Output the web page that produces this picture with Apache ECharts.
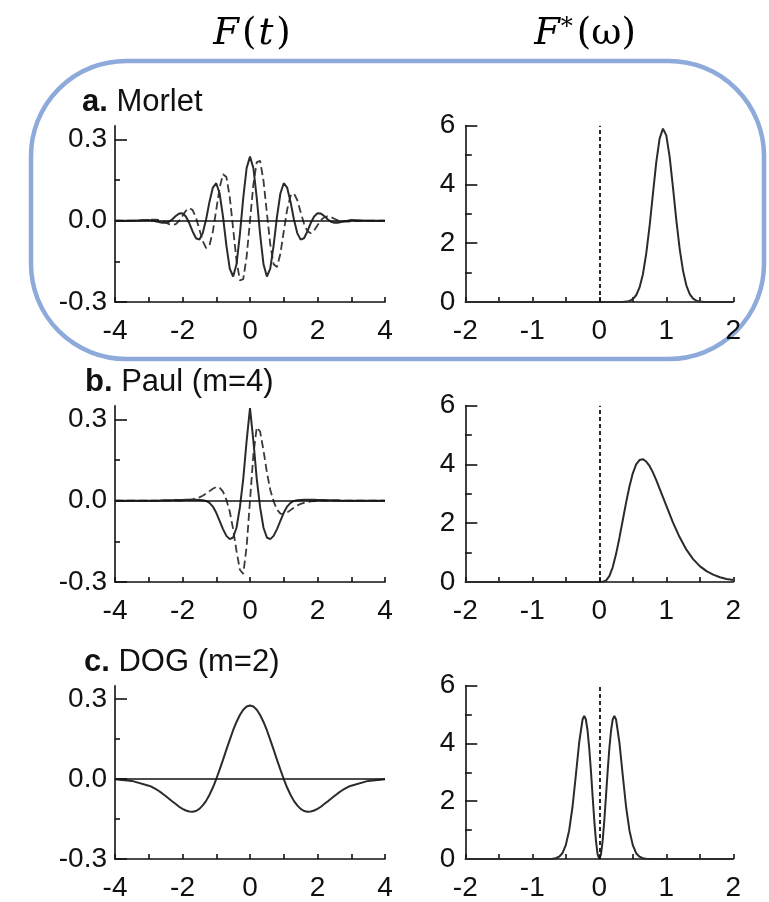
<!DOCTYPE html>
<html><head><meta charset="utf-8">
<script src="https://cdn.jsdelivr.net/npm/echarts@6/dist/echarts.min.js"></script>
<style>html,body{margin:0;padding:0;background:#fff}#c{width:769px;height:902px}</style>
</head><body><div id="c"></div>
<script>
// ---- time grid (t) for left panels ----
const T = [-4,-3.5,-3,-2.9,-2.8,-2.7,-2.6,-2.5,-2.4,-2.3,-2.2,-2.1,-2,-1.9,-1.8,-1.7,-1.6,-1.5,-1.4,-1.3,-1.2,-1.1,-1,-0.9,-0.8,-0.7,-0.6,-0.5,-0.4,-0.3,-0.2,-0.1,0,0.1,0.2,0.3,0.4,0.5,0.6,0.7,0.8,0.9,1,1.1,1.2,1.3,1.4,1.5,1.6,1.7,1.8,1.9,2,2.1,2.2,2.3,2.4,2.5,2.6,2.7,2.8,2.9,3,3.5,4];
// a. Morlet, real (solid) and imaginary (dashed)
const morletRe = [0,0,0.002,0,-0.002,-0.005,-0.008,-0.008,-0.004,0.005,0.017,0.026,0.027,0.015,-0.009,-0.04,-0.065,-0.07,-0.046,0.005,0.07,0.122,0.138,0.1,0.015,-0.091,-0.177,-0.206,-0.161,-0.051,0.084,0.194,0.236,0.194,0.084,-0.051,-0.161,-0.206,-0.177,-0.091,0.015,0.1,0.138,0.122,0.07,0.005,-0.046,-0.07,-0.065,-0.04,-0.009,0.015,0.027,0.026,0.017,0.005,-0.004,-0.008,-0.008,-0.005,-0.002,0,0.002,0,0];
const morletIm = [0,0,0.002,0.004,0.004,0.003,-0.001,-0.007,-0.013,-0.016,-0.013,-0.001,0.017,0.036,0.046,0.039,0.011,-0.032,-0.076,-0.101,-0.091,-0.04,0.04,0.122,0.171,0.161,0.087,-0.029,-0.147,-0.22,-0.216,-0.133,0,0.133,0.216,0.22,0.147,0.029,-0.087,-0.161,-0.171,-0.122,-0.04,0.04,0.091,0.101,0.076,0.032,-0.011,-0.039,-0.046,-0.036,-0.017,0.001,0.013,0.016,0.013,0.007,0.001,-0.003,-0.004,-0.004,-0.002,0,0];
// b. Paul (m=4)
const paulRe = [0,0,0,0,0,0,0.001,0.001,0.001,0.001,0.002,0.002,0.002,0.003,0.003,0.003,0.003,0.002,0.001,-0.001,-0.008,-0.022,-0.045,-0.075,-0.105,-0.13,-0.142,-0.136,-0.1,-0.025,0.08,0.22,0.341,0.22,0.08,-0.025,-0.1,-0.136,-0.142,-0.13,-0.105,-0.075,-0.045,-0.022,-0.008,-0.001,0.001,0.002,0.003,0.003,0.003,0.003,0.002,0.002,0.002,0.001,0.001,0.001,0.001,0,0,0,0,0,0];
const paulIm = [0,0,0,0,0,0,0,0,0,0,0,0,0.001,0.002,0.003,0.005,0.008,0.012,0.018,0.026,0.035,0.044,0.05,0.048,0.033,0.003,-0.04,-0.105,-0.185,-0.255,-0.27,-0.17,0,0.17,0.27,0.255,0.185,0.105,0.04,-0.003,-0.033,-0.048,-0.05,-0.044,-0.035,-0.026,-0.018,-0.012,-0.008,-0.005,-0.003,-0.002,-0.001,0,0,0,0,0,0,0,0,0,0,0,0];
// c. DOG (m=2)
const dogRe = [-0.001,-0.007,-0.025,-0.03,-0.037,-0.045,-0.054,-0.064,-0.074,-0.084,-0.094,-0.104,-0.112,-0.118,-0.122,-0.123,-0.12,-0.112,-0.099,-0.082,-0.059,-0.032,0,0.035,0.072,0.11,0.147,0.183,0.214,0.24,0.26,0.272,0.276,0.272,0.26,0.24,0.214,0.183,0.147,0.11,0.072,0.035,0,-0.032,-0.059,-0.082,-0.099,-0.112,-0.12,-0.123,-0.122,-0.118,-0.112,-0.104,-0.094,-0.084,-0.074,-0.064,-0.054,-0.045,-0.037,-0.03,-0.025,-0.007,-0.001];

// ---- frequency panels (right) ----
const morletW = [-2,0,0.35,0.4,0.45,0.5,0.55,0.6,0.65,0.7,0.75,0.8,0.85,0.9,0.95,1.0,1.05,1.1,1.15,1.2,1.25,1.3,1.35,1.4,1.45,1.5,1.55,1.6,1.65,2];
const morletF = [0,0,0.003,0.013,0.038,0.099,0.229,0.489,0.937,1.64,2.57,3.67,4.75,5.56,5.9,5.67,4.94,3.89,2.78,1.8,1.06,0.56,0.27,0.117,0.047,0.017,0.005,0.001,0,0];
const paulW = [-2,0,0.05,0.1,0.15,0.2,0.25,0.3,0.35,0.4,0.45,0.5,0.55,0.6,0.65,0.7,0.75,0.8,0.85,0.9,0.95,1.0,1.1,1.2,1.3,1.4,1.5,1.6,1.7,1.8,1.9,2.0];
const paulF = [0,0,0.005,0.05,0.2,0.5,0.95,1.5,2.1,2.7,3.25,3.7,4.0,4.15,4.18,4.1,3.95,3.73,3.47,3.18,2.89,2.6,2.02,1.52,1.1,0.78,0.54,0.37,0.25,0.16,0.1,0.07];
const dogW = [-2,-0.7,-0.65,-0.6,-0.55,-0.5,-0.45,-0.4,-0.35,-0.3,-0.25,-0.225,-0.2,-0.175,-0.15,-0.125,-0.1,-0.075,-0.05,-0.025,0,0.025,0.05,0.075,0.1,0.125,0.15,0.175,0.2,0.225,0.25,0.3,0.35,0.4,0.45,0.5,0.55,0.6,0.65,0.7,2];
const dogF = [0,0.008,0.026,0.08,0.2,0.48,0.99,1.8,2.9,4.04,4.83,4.95,4.83,4.44,3.83,3.05,2.18,1.34,0.63,0.16,0,0.16,0.63,1.34,2.18,3.05,3.83,4.44,4.83,4.95,4.83,4.04,2.9,1.8,0.99,0.48,0.2,0.08,0.026,0.008,0];

// ---- ticks & labels ----
const tTicks = [-4,-3,-2,-1,0,1,2,3,4];
const tLabels = [-4,-2,0,2,4];
const ampMajor = [-0.3,0,0.3];
const ampMinor = [-0.15,0.15];
const wTicks = [-2,-1.5,-1,-0.5,0,0.5,1,1.5,2];
const wLabels = [-2,-1,0,1,2];
const powMajor = [0,2,4,6];
const powMinor = [1,3,5];

const panelTitles = [['a.',' Morlet'],['b.',' Paul (m=4)'],['c.',' DOG (m=2)']];

const chart = echarts.init(document.getElementById('c'), null, {renderer:'canvas'});

const ROW_TOP = [125.7, 405.7, 685.7];
const GH = 176.3;
const LFONT = 'Liberation Sans';
const AX = {color:'#111', width:1.6};
const labelStyle = {fontSize:28, fontFamily:LFONT, color:'#111'};

const grid = [], xAxis = [], yAxis = [], series = [];
ROW_TOP.forEach((top) => {
  grid.push({left:115, top:top, width:270, height:GH});
  grid.push({left:465.3, top:top, width:268, height:GH});
});
for (let g = 0; g < 6; g++) {
  const isLeft = g % 2 === 0;
  xAxis.push({
    type:'value', gridIndex:g, min:isLeft?-4:-2, max:isLeft?4:2, interval:isLeft?1:0.5,
    axisLine:{show:true, onZero:false, lineStyle:AX},
    axisTick:{show:true, inside:true, length:5, lineStyle:AX, customValues:isLeft?tTicks:wTicks},
    axisLabel:Object.assign({show:true, margin:15, customValues:isLeft?tLabels:wLabels, formatter:v=>String(v)}, labelStyle),
    splitLine:{show:false}
  });
}
for (let g = 0; g < 6; g++) {
  const isLeft = g % 2 === 0;
  yAxis.push({
    type:'value', gridIndex:g, position:'left', min:isLeft?-0.3:0, max:isLeft?0.35:6,
    axisLine:{show:true, onZero:false, lineStyle:AX},
    axisTick:{show:true, inside:true, length:12, lineStyle:AX, customValues:isLeft?ampMajor:powMajor},
    axisLabel:Object.assign({show:true, margin:isLeft?8:10, customValues:isLeft?ampMajor:powMajor,
      formatter:v=>isLeft?v.toFixed(1):String(v)}, labelStyle),
    splitLine:{show:false}
  });
}
for (let g = 0; g < 6; g++) {
  const isLeft = g % 2 === 0;
  yAxis.push({
    type:'value', gridIndex:g, position:'left', min:isLeft?-0.3:0, max:isLeft?0.35:6,
    axisLine:{show:false, onZero:false},
    axisTick:{show:true, inside:true, length:isLeft?5:6.5, lineStyle:AX, customValues:isLeft?ampMinor:powMinor},
    axisLabel:{show:false}, splitLine:{show:false}
  });
}

const solid = {color:'#2b2b2b', width:2};
const dashed = {color:'#3a3a3a', width:1.8, type:[8,4]};
const zeroLine = {silent:true, symbol:['none','none'], label:{show:false}, animation:false,
  lineStyle:{color:'#111', width:1.6, type:'solid'}, data:[{yAxis:0}]};
const vLine = {silent:true, symbol:['none','none'], label:{show:false}, animation:false,
  lineStyle:{color:'#111', width:1.8, type:[4,3]}, data:[{xAxis:0}]};

function line(g, xs, ys, style, extra) {
  return Object.assign({type:'line', xAxisIndex:g, yAxisIndex:g, data:xs.map((x,i)=>[x, ys[i]]),
    symbol:'none', showSymbol:false, smooth:false, lineStyle:style, silent:true, animation:false, z:3}, extra||{});
}
series.push(line(0, T, morletIm, dashed));
series.push(line(0, T, morletRe, solid, {markLine:zeroLine}));
series.push(line(1, morletW, morletF, solid, {markLine:vLine}));
series.push(line(2, T, paulIm, dashed));
series.push(line(2, T, paulRe, solid, {markLine:zeroLine}));
series.push(line(3, paulW, paulF, solid, {markLine:vLine}));
series.push(line(4, T, dogRe, solid, {markLine:zeroLine}));
series.push(line(5, dogW, dogF, solid, {markLine:vLine}));

const SERIF = 'DejaVu Serif';
const graphic = [
  {type:'rect', shape:{x:31, y:61, width:733, height:298, r:95}, silent:true,
   style:{fill:null, stroke:'#8eaadb', lineWidth:4.5}, z:0},
  {type:'text', silent:true, style:{text:'{i|F}{n|(}{i|t}{n|)}', x:253, y:34, align:'center', verticalAlign:'middle', fill:'#000',
    rich:{i:{fontStyle:'italic', fontFamily:SERIF, fontSize:37, padding:[0,3,0,0]}, n:{fontFamily:SERIF, fontSize:37, padding:[0,2,0,0]}}}},
  {type:'text', silent:true, style:{text:'{i|F}{s|*}{n|(ω)}', x:585, y:34, align:'center', verticalAlign:'middle', fill:'#000',
    rich:{i:{fontStyle:'italic', fontFamily:SERIF, fontSize:37}, s:{fontFamily:SERIF, fontSize:24, verticalAlign:'top', padding:[0,4,12,1]}, n:{fontFamily:SERIF, fontSize:37}}}}
];
const titleX = [82, 85, 84];
panelTitles.forEach((p, r) => {
  graphic.push({type:'text', silent:true, style:{text:'{b|'+p[0]+'}{n|'+p[1]+'}', x:titleX[r], y:102 + r*280, verticalAlign:'middle', fill:'#111',
    rich:{b:{fontWeight:'bold', fontFamily:LFONT, fontSize:31}, n:{fontFamily:LFONT, fontSize:31}}}});
});

chart.setOption({animation:false, backgroundColor:'#fff', grid, xAxis, yAxis, series, graphic});
</script></body></html>
